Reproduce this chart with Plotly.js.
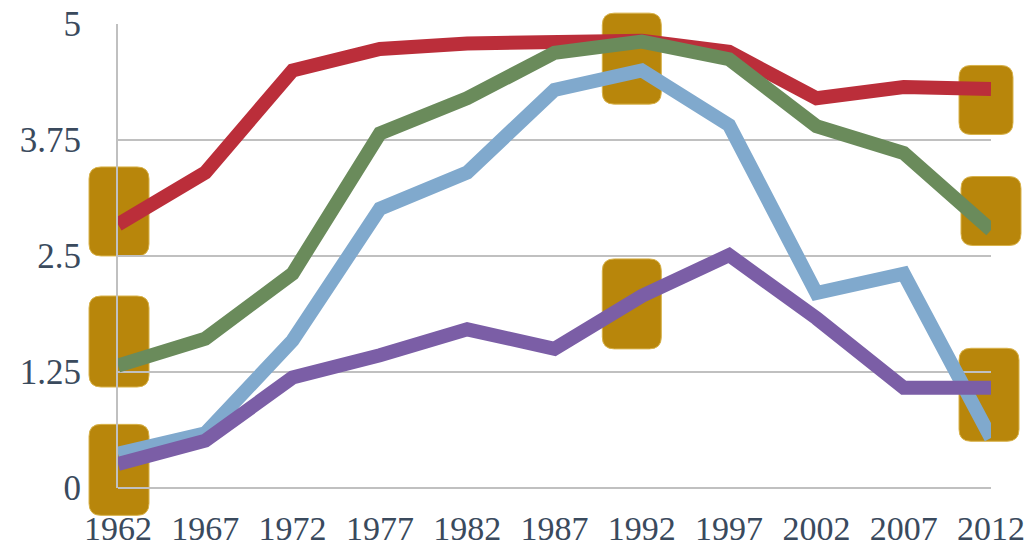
<!DOCTYPE html>
<html>
<head>
<meta charset="utf-8">
<script src="https://cdn.plot.ly/plotly-3.0.1.min.js"></script>
<style>
  html, body { margin: 0; padding: 0; background: #ffffff; }
  #chart { width: 1036px; height: 551px; }
</style>
</head>
<body>
<div id="chart"></div>
<script>
// ---- data ----
const years = [1962, 1967, 1972, 1977, 1982, 1987, 1992, 1997, 2002, 2007, 2012];
const tickLabels = ['1962', '1967', '1972', '1977', '1982', '1987', '1992', '1997', '2002', '2007', '2012'];
const yTickValues = [0, 1.25, 2.5, 3.75, 5];
const yTickLabels = ['0', '1.25', '2.5', '3.75', '5'];

const redSeries    = [2.84, 3.40, 4.50, 4.73, 4.79, 4.79, 4.82, 4.70, 4.20, 4.32, 4.30];
const greenSeries  = [1.32, 1.61, 2.31, 3.82, 4.20, 4.69, 4.81, 4.62, 3.90, 3.61, 2.78];
const blueSeries   = [0.37, 0.59, 1.59, 3.01, 3.40, 4.29, 4.50, 3.91, 2.10, 2.31, 0.54];
const purpleSeries = [0.26, 0.51, 1.19, 1.43, 1.71, 1.50, 2.07, 2.51, 1.83, 1.08, 1.08];

// data-label boxes: which series point each box belongs to
const labelSeries = ['red', 'green', 'purple', 'green', 'purple', 'red', 'green', 'purple'];
const labelIndex  = [0, 0, 0, 6, 6, 10, 10, 10];

// ---- styling ----
const seriesData = { red: redSeries, green: greenSeries, blue: blueSeries, purple: purpleSeries };
const colors = { red: '#bb2e3a', green: '#6a8b5b', blue: '#80a9cd', purple: '#7b5ea6' };
const textColor = '#3a4a5d';
const gridColor = '#c0c0c0';
const boxColor = '#b8860b';
const W = 1036, H = 551;
const plotLeft = 118, plotRight = 991, plotTop = 24, plotBottom = 488;

// box geometry in pixels: [dx (right), dy (up), width, height]
const boxGeom = [
  [1, 13, 60, 89],
  [1, 24, 60, 91],
  [1, -6, 60, 91],
  [-10, -17, 59, 91],
  [-10, -8, 59, 90],
  [-5, -11, 54, 69],
  [0, 19, 60, 69],
  [-2, -7, 60, 93]
];

function roundedRectPath(cx, cy, w, h, r) {
  const x0 = cx - w / 2, x1 = cx + w / 2, y0 = cy - h / 2, y1 = cy + h / 2;
  return 'M' + (x0 + r) + ',' + y0 +
    ' L' + (x1 - r) + ',' + y0 + ' Q' + x1 + ',' + y0 + ' ' + x1 + ',' + (y0 + r) +
    ' L' + x1 + ',' + (y1 - r) + ' Q' + x1 + ',' + y1 + ' ' + (x1 - r) + ',' + y1 +
    ' L' + (x0 + r) + ',' + y1 + ' Q' + x0 + ',' + y1 + ' ' + x0 + ',' + (y1 - r) +
    ' L' + x0 + ',' + (y0 + r) + ' Q' + x0 + ',' + y0 + ' ' + (x0 + r) + ',' + y0 + ' Z';
}

// full-figure helper axes (x / y) share the data scale of the main axes (x2 / y2)
const xRange = [years[0], years[years.length - 1]];
const yRange = [yTickValues[0], yTickValues[yTickValues.length - 1]];
const xPerPx = (xRange[1] - xRange[0]) / (plotRight - plotLeft);
const yPerPx = (yRange[1] - yRange[0]) / (plotBottom - plotTop);
const fullX = [xRange[0] - plotLeft * xPerPx, xRange[1] + (W - plotRight) * xPerPx];
const fullY = [yRange[0] - (H - plotBottom) * yPerPx, yRange[1] + plotTop * yPerPx];

const shapes = labelSeries.map(function (s, i) {
  const g = boxGeom[i];
  return {
    type: 'path',
    layer: 'below',
    xref: 'x', yref: 'y',
    xsizemode: 'pixel', ysizemode: 'pixel',
    xanchor: years[labelIndex[i]],
    yanchor: seriesData[s][labelIndex[i]],
    path: roundedRectPath(g[0], g[1], g[2], g[3], 12),
    fillcolor: boxColor,
    line: { color: '#d8b24a', width: 1 }
  };
});

const order = ['red', 'green', 'blue', 'purple'];
const traces = [{
  type: 'scatter', mode: 'lines', x: [], y: [], xaxis: 'x', yaxis: 'y',
  hoverinfo: 'skip', showlegend: false
}].concat(order.map(function (k) {
  return {
    type: 'scatter',
    mode: 'lines',
    x: years,
    y: seriesData[k],
    xaxis: 'x2', yaxis: 'y2',
    line: { color: colors[k], width: 14 },
    cliponaxis: false,
    hoverinfo: 'skip',
    showlegend: false
  };
}));

const xTickFont = { size: 34, color: textColor, family: '"Liberation Serif", "DejaVu Serif", serif' };
const yTickFont = { size: 35, color: textColor, family: '"Liberation Serif", "DejaVu Serif", serif' };

const layout = {
  width: W,
  height: H,
  margin: { l: 0, r: 0, t: 0, b: 0, pad: 0 },
  paper_bgcolor: '#ffffff',
  plot_bgcolor: 'rgba(0,0,0,0)',
  showlegend: false,
  font: { family: '"Liberation Serif", "DejaVu Serif", serif', color: textColor, size: 34 },
  xaxis: { domain: [0, 1], range: fullX, visible: false, fixedrange: true, anchor: 'y' },
  yaxis: { domain: [0, 1], range: fullY, visible: false, fixedrange: true, anchor: 'x' },
  xaxis2: {
    domain: [plotLeft / W, plotRight / W],
    anchor: 'y2',
    range: xRange,
    tickmode: 'array',
    tickvals: years,
    ticktext: tickLabels,
    showgrid: false,
    zeroline: false,
    showline: false,
    ticks: '',
    ticklabelstandoff: 17,
    tickfont: xTickFont,
    automargin: false,
    fixedrange: true
  },
  yaxis2: {
    domain: [(H - plotBottom) / H, (H - plotTop) / H],
    anchor: 'x2',
    range: yRange,
    tickmode: 'array',
    tickvals: yTickValues,
    ticktext: yTickLabels,
    showgrid: true,
    gridcolor: gridColor,
    gridwidth: 2,
    zeroline: true,
    zerolinecolor: gridColor,
    zerolinewidth: 2,
    showline: true,
    linecolor: gridColor,
    linewidth: 2,
    ticks: '',
    ticklabelstandoff: 28,
    layer: 'below traces',
    tickfont: yTickFont,
    automargin: false,
    fixedrange: true
  },
  shapes: shapes
};

Plotly.newPlot('chart', traces, layout, { displayModeBar: false, staticPlot: true });
</script>
</body>
</html>
